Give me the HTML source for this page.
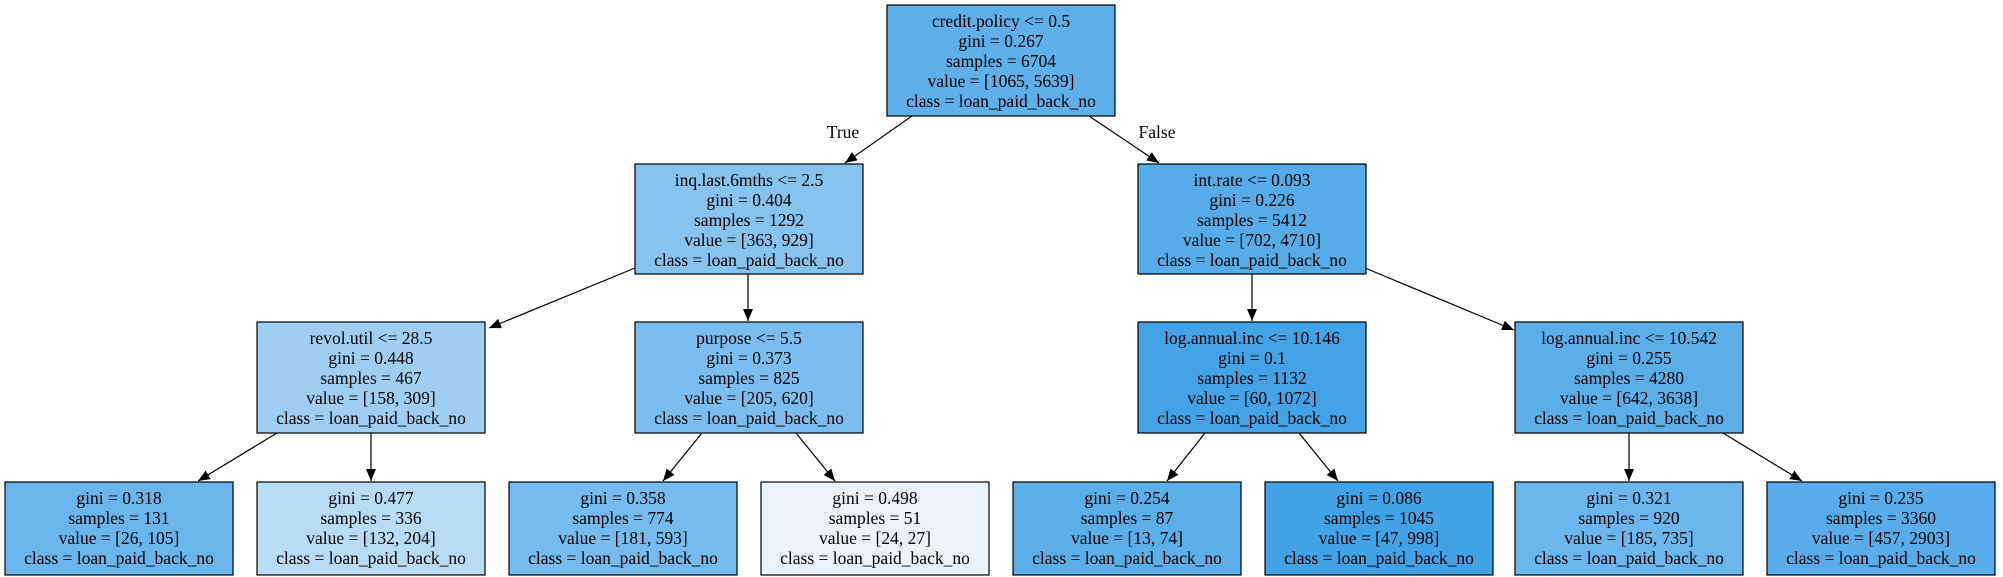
<!DOCTYPE html>
<html><head><meta charset="utf-8"><style>
html,body{margin:0;padding:0;background:#fff;}
svg{display:block;}
text{font-family:"Liberation Serif",serif;font-size:17.5px;fill:#000;text-anchor:middle;}
rect{stroke:#000;stroke-width:1.2;}
line{stroke:#000;stroke-width:1.2;}
</style></head><body>
<svg width="2003" height="577" viewBox="0 0 2003 577" xmlns="http://www.w3.org/2000/svg">
<defs><marker id="a" markerWidth="12" markerHeight="10" refX="12" refY="5" orient="auto" markerUnits="userSpaceOnUse"><path d="M0,0 L12,5 L0,10 z" fill="#000"/></marker></defs>

<!-- edges -->
<line x1="912" y1="116" x2="845" y2="163" marker-end="url(#a)"/>
<line x1="1089" y1="116" x2="1159" y2="163" marker-end="url(#a)"/>
<line x1="635" y1="268" x2="489" y2="328" marker-end="url(#a)"/>
<line x1="748" y1="274" x2="748" y2="321" marker-end="url(#a)"/>
<line x1="1252" y1="274" x2="1252" y2="321" marker-end="url(#a)"/>
<line x1="1365" y1="268" x2="1514" y2="330" marker-end="url(#a)"/>
<line x1="277" y1="433" x2="198" y2="481" marker-end="url(#a)"/>
<line x1="371" y1="433" x2="371" y2="481" marker-end="url(#a)"/>
<line x1="702" y1="433" x2="663" y2="481" marker-end="url(#a)"/>
<line x1="796" y1="433" x2="835" y2="481" marker-end="url(#a)"/>
<line x1="1205" y1="433" x2="1167" y2="481" marker-end="url(#a)"/>
<line x1="1299" y1="433" x2="1338" y2="481" marker-end="url(#a)"/>
<line x1="1629" y1="433" x2="1629" y2="481" marker-end="url(#a)"/>
<line x1="1723" y1="433" x2="1802" y2="481" marker-end="url(#a)"/>
<text x="843" y="138">True</text>
<text x="1157" y="138">False</text>

<!-- root -->
<rect x="887" y="5" width="228" height="111" fill="#5eafea"/>
<text x="1001" y="27">credit.policy &lt;= 0.5</text><text x="1001" y="47">gini = 0.267</text><text x="1001" y="67">samples = 6704</text><text x="1001" y="87">value = [1065, 5639]</text><text x="1001" y="107">class = loan_paid_back_no</text>

<!-- level 2 -->
<rect x="635" y="164" width="228" height="110" fill="#86c3ef"/>
<text x="749" y="186">inq.last.6mths &lt;= 2.5</text><text x="749" y="206">gini = 0.404</text><text x="749" y="226">samples = 1292</text><text x="749" y="246">value = [363, 929]</text><text x="749" y="266">class = loan_paid_back_no</text>
<rect x="1138" y="164" width="228" height="110" fill="#56ace9"/>
<text x="1252" y="186">int.rate &lt;= 0.093</text><text x="1252" y="206">gini = 0.226</text><text x="1252" y="226">samples = 5412</text><text x="1252" y="246">value = [702, 4710]</text><text x="1252" y="266">class = loan_paid_back_no</text>

<!-- level 3 -->
<rect x="257" y="322" width="228" height="111" fill="#9ecff2"/>
<text x="371" y="344">revol.util &lt;= 28.5</text><text x="371" y="364">gini = 0.448</text><text x="371" y="384">samples = 467</text><text x="371" y="404">value = [158, 309]</text><text x="371" y="424">class = loan_paid_back_no</text>
<rect x="635" y="322" width="228" height="111" fill="#7abdee"/>
<text x="749" y="344">purpose &lt;= 5.5</text><text x="749" y="364">gini = 0.373</text><text x="749" y="384">samples = 825</text><text x="749" y="404">value = [205, 620]</text><text x="749" y="424">class = loan_paid_back_no</text>
<rect x="1138" y="322" width="228" height="111" fill="#44a2e6"/>
<text x="1252" y="344">log.annual.inc &lt;= 10.146</text><text x="1252" y="364">gini = 0.1</text><text x="1252" y="384">samples = 1132</text><text x="1252" y="404">value = [60, 1072]</text><text x="1252" y="424">class = loan_paid_back_no</text>
<rect x="1515" y="322" width="228" height="111" fill="#5caee9"/>
<text x="1629" y="344">log.annual.inc &lt;= 10.542</text><text x="1629" y="364">gini = 0.255</text><text x="1629" y="384">samples = 4280</text><text x="1629" y="404">value = [642, 3638]</text><text x="1629" y="424">class = loan_paid_back_no</text>

<!-- leaves -->
<rect x="5" y="482" width="228" height="93" fill="#6ab5eb"/>
<text x="119" y="504">gini = 0.318</text><text x="119" y="524">samples = 131</text><text x="119" y="544">value = [26, 105]</text><text x="119" y="564">class = loan_paid_back_no</text>
<rect x="257" y="482" width="228" height="93" fill="#b9dcf6"/>
<text x="371" y="504">gini = 0.477</text><text x="371" y="524">samples = 336</text><text x="371" y="544">value = [132, 204]</text><text x="371" y="564">class = loan_paid_back_no</text>
<rect x="509" y="482" width="228" height="93" fill="#75bbed"/>
<text x="623" y="504">gini = 0.358</text><text x="623" y="524">samples = 774</text><text x="623" y="544">value = [181, 593]</text><text x="623" y="564">class = loan_paid_back_no</text>
<rect x="761" y="482" width="228" height="93" fill="#e9f4fc"/>
<text x="875" y="504">gini = 0.498</text><text x="875" y="524">samples = 51</text><text x="875" y="544">value = [24, 27]</text><text x="875" y="564">class = loan_paid_back_no</text>
<rect x="1013" y="482" width="228" height="93" fill="#5caee9"/>
<text x="1127" y="504">gini = 0.254</text><text x="1127" y="524">samples = 87</text><text x="1127" y="544">value = [13, 74]</text><text x="1127" y="564">class = loan_paid_back_no</text>
<rect x="1265" y="482" width="228" height="93" fill="#42a2e6"/>
<text x="1379" y="504">gini = 0.086</text><text x="1379" y="524">samples = 1045</text><text x="1379" y="544">value = [47, 998]</text><text x="1379" y="564">class = loan_paid_back_no</text>
<rect x="1515" y="482" width="228" height="93" fill="#6bb6ec"/>
<text x="1629" y="504">gini = 0.321</text><text x="1629" y="524">samples = 920</text><text x="1629" y="544">value = [185, 735]</text><text x="1629" y="564">class = loan_paid_back_no</text>
<rect x="1767" y="482" width="228" height="93" fill="#58ace9"/>
<text x="1881" y="504">gini = 0.235</text><text x="1881" y="524">samples = 3360</text><text x="1881" y="544">value = [457, 2903]</text><text x="1881" y="564">class = loan_paid_back_no</text>
</svg>
</body></html>
